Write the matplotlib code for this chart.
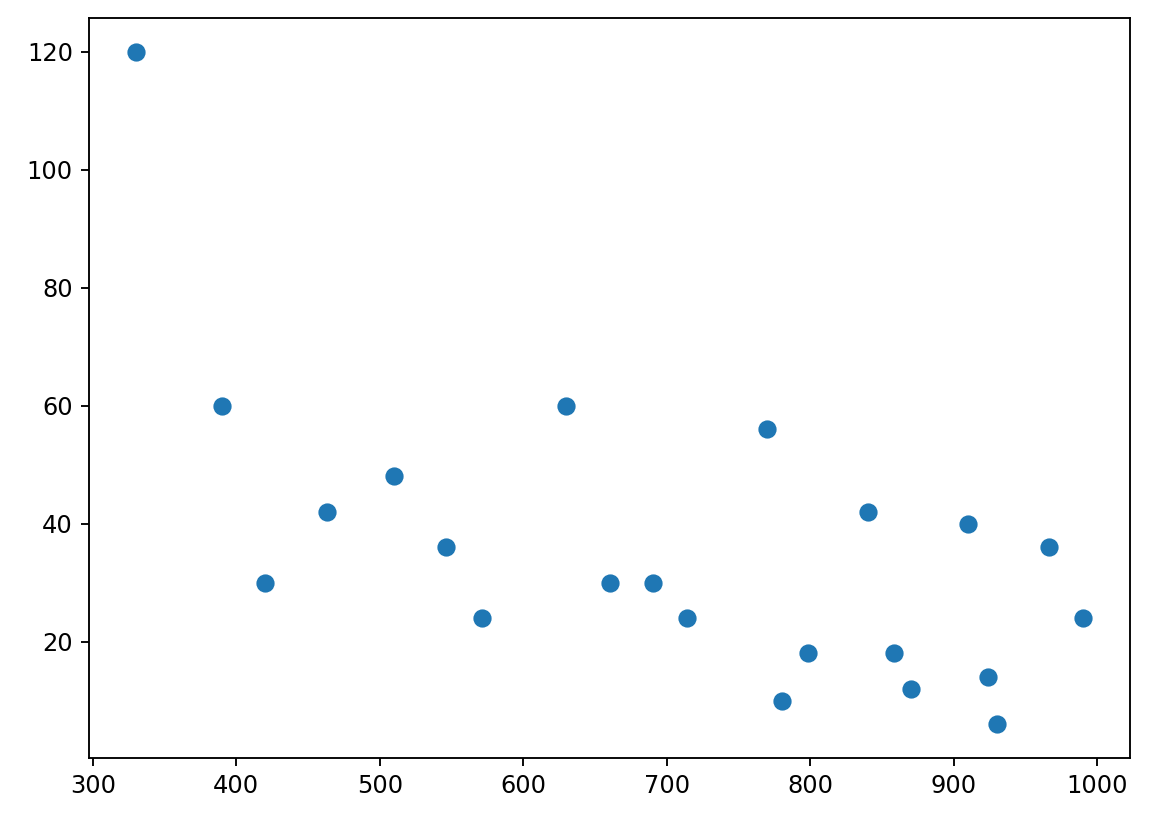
import matplotlib
matplotlib.use('Agg')
import matplotlib.pyplot as plt

x_vals = [330, 390, 420, 463, 510, 546, 571, 630, 660, 690, 714,
          770, 780, 798, 840, 858, 870, 910, 924, 930, 966, 990]
y_vals = [120, 60, 30, 42, 48, 36, 24, 60, 30, 30, 24,
          56, 10, 18, 42, 18, 12, 40, 14, 6, 36, 24]

fig, ax = plt.subplots(figsize=(1150 / 150, 822 / 150), dpi=150)
fig.subplots_adjust(left=0.077, right=0.983, top=0.978, bottom=0.078)

ax.scatter(x_vals, y_vals, s=60, color='#1f77b4')
ax.tick_params(labelsize=11.6, length=4, width=0.9)
for sp in ax.spines.values():
    sp.set_linewidth(0.9)

plt.savefig('out.png', dpi=150)
plt.close()
